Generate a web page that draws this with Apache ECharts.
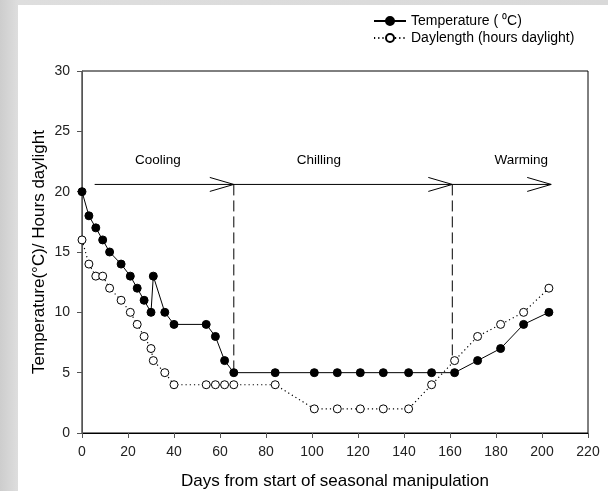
<!DOCTYPE html>
<html>
<head>
<meta charset="utf-8">
<script src="https://cdn.jsdelivr.net/npm/echarts@6/dist/echarts.min.js"></script>
<style>
  html, body { margin: 0; padding: 0; }
  body { width: 608px; height: 491px; background: linear-gradient(to right, #cdcdcd, #dedede 18px, #d9d9d9); position: relative; overflow: hidden; }
  #panel { position: absolute; left: 18px; top: 5px; right: 0; bottom: 0; background: #fff; }
  #chart { position: absolute; left: 0; top: 0; width: 608px; height: 491px; }
</style>
</head>
<body>
<div id="panel"></div>
<div id="chart"></div>
<script>
// days of each measurement
const tempDays = [0, 3, 6, 9, 12, 17, 21, 24, 27, 30, 31, 36, 40, 54, 58, 62, 66, 84, 101, 111, 121, 131, 142, 152, 162, 172, 182, 192, 203];
const tempValues = [20, 18, 17, 16, 15, 14, 13, 12, 11, 10, 13, 10, 9, 9, 8, 6, 5, 5, 5, 5, 5, 5, 5, 5, 5, 6, 7, 9, 10];
const dayDays = [0, 3, 6, 9, 12, 17, 21, 24, 27, 30, 31, 36, 40, 54, 58, 62, 66, 84, 101, 111, 121, 131, 142, 152, 162, 172, 182, 192, 203];
const dayValues = [16, 14, 13, 13, 12, 11, 10, 9, 8, 7, 6, 5, 4, 4, 4, 4, 4, 4, 2, 2, 2, 2, 2, 4, 6, 8, 9, 10, 12];

// phase annotations
const phaseNames = ['Cooling', 'Chilling', 'Warming'];
const phaseStart = [5.5, 66, 161];
const phaseEnd = [66, 161, 204];
const phaseLabelX = [33, 103, 191];
const arrowY = 20.6;
const labelY = 22.6;
const dividerX = [66, 161];
const dividerBottom = [5, 6];

const chart = echarts.init(document.getElementById('chart'));

const font = 'Liberation Sans, Arial, sans-serif';

const option = {
    backgroundColor: 'transparent',
    textStyle: { fontFamily: font },
    animation: false,
    grid: {
        left: 82, right: 20, top: 71, bottom: 58,
        containLabel: false, outerBoundsMode: 'none',
        show: true, borderColor: '#000', borderWidth: 1
    },
    legend: {
        orient: 'vertical',
        left: 368,
        top: 9,
        itemWidth: 32,
        itemHeight: 10,
        itemGap: 3,
        textStyle: { fontSize: 14, color: '#000', fontFamily: font },
        data: ['Temperature ( \u2070C)', 'Daylength (hours daylight)']
    },
    xAxis: {
        type: 'value',
        min: 0, max: 220, interval: 20,
        name: 'Days from start of seasonal manipulation',
        nameLocation: 'middle',
        nameGap: 40,
        nameMoveOverlap: false,
        nameTextStyle: { fontSize: 17, color: '#000' },
        axisLine: { lineStyle: { color: '#000' } },
        axisTick: { length: 5, lineStyle: { color: '#555' } },
        axisLabel: { fontSize: 14, color: '#222', margin: 12 },
        splitLine: { show: false }
    },
    yAxis: {
        type: 'value',
        min: 0, max: 30, interval: 5,
        name: 'Temperature(\u00B0C)/ Hours daylight',
        nameLocation: 'middle',
        nameGap: 34,
        nameMoveOverlap: false,
        nameTextStyle: { fontSize: 17, color: '#000' },
        axisLine: { show: true, lineStyle: { color: '#555' } },
        axisTick: { show: true, length: 5, lineStyle: { color: '#555' } },
        axisLabel: { fontSize: 14, color: '#222', margin: 12 },
        splitLine: { show: false }
    },
    series: [
        {
            type: 'custom',
            silent: true,
            z: 1,
            data: phaseNames.map((n, i) => [phaseStart[i], phaseEnd[i], arrowY, phaseLabelX[i], labelY]),
            renderItem: function (params, api) {
                const i = params.dataIndex;
                const a = api.coord([api.value(0), api.value(2)]);
                const b = api.coord([api.value(1), api.value(2)]);
                const t = api.coord([api.value(3), api.value(4)]);
                const children = [
                    { type: 'line', shape: { x1: a[0], y1: a[1], x2: b[0], y2: b[1] }, style: { stroke: '#000', lineWidth: 1 } },
                    { type: 'polyline', shape: { points: [[b[0] - 24, b[1] - 7], [b[0], b[1]], [b[0] - 24, b[1] + 7]] }, style: { stroke: '#000', lineWidth: 1, fill: null } },
                    { type: 'text', x: t[0], y: t[1], style: { text: phaseNames[i], font: '13.5px ' + font, fill: '#000', align: 'center', verticalAlign: 'middle' } }
                ];
                if (i < dividerX.length) {
                    const p = api.coord([dividerX[i], arrowY]);
                    const q = api.coord([dividerX[i], dividerBottom[i]]);
                    children.push({ type: 'line', shape: { x1: p[0], y1: p[1], x2: q[0], y2: q[1] }, style: { stroke: '#000', lineWidth: 1, lineDash: [11, 5] } });
                }
                return { type: 'group', children: children };
            }
        },
        {
            name: 'Daylength (hours daylight)',
            type: 'line',
            z: 3,
            data: dayDays.map((d, i) => [d, dayValues[i]]),
            symbol: 'circle',
            symbolSize: 8,
            lineStyle: { color: '#000', width: 1.2, type: [1.2, 3] },
            itemStyle: { color: '#fff', borderColor: '#000', borderWidth: 1 }
        },
        {
            name: 'Temperature ( \u2070C)',
            type: 'line',
            z: 4,
            data: tempDays.map((d, i) => [d, tempValues[i]]),
            symbol: 'circle',
            symbolSize: 8,
            lineStyle: { color: '#000', width: 1 },
            itemStyle: { color: '#000', borderColor: '#000', borderWidth: 1 }
        }
    ]
};

chart.setOption(option);
</script>
</body>
</html>
